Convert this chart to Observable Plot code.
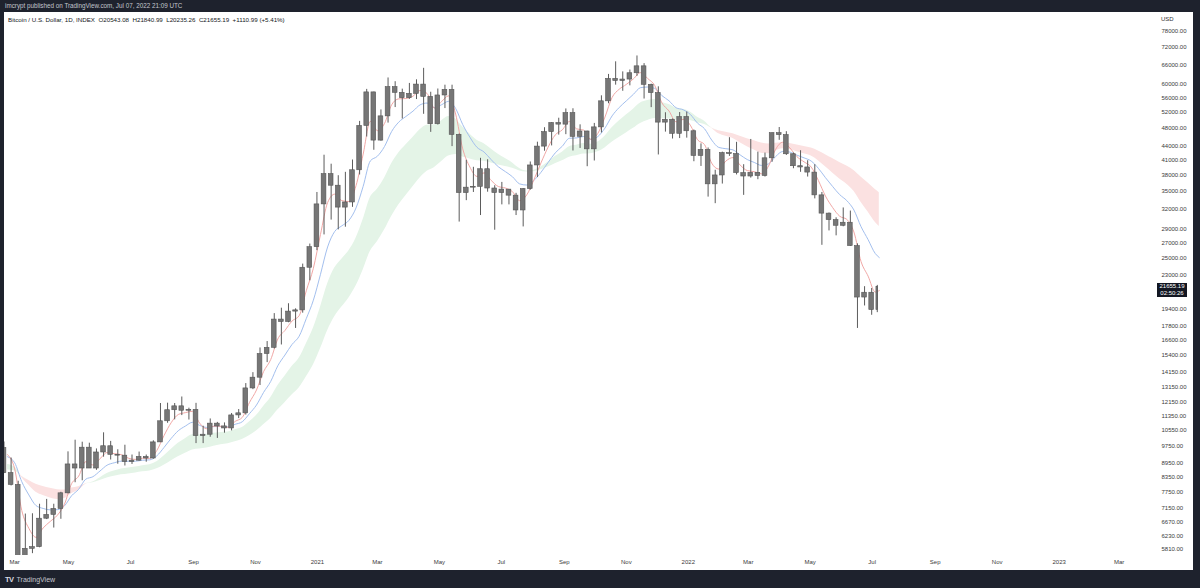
<!DOCTYPE html>
<html><head><meta charset="utf-8">
<script src="https://cdn.jsdelivr.net/npm/d3@7"></script>
<script src="https://cdn.jsdelivr.net/npm/@observablehq/plot@0.6"></script>
<style>
html,body{margin:0;padding:0;background:#1e222d;width:1200px;height:588px;overflow:hidden;font-family:"Liberation Sans",Arial,sans-serif;}
#top{position:absolute;left:5px;top:1px;font-size:6.3px;color:#c3c6ce;line-height:10px;white-space:nowrap;}
#panel{position:absolute;left:4px;top:12px;width:1189px;height:558px;background:#fff;overflow:hidden;}
#hdr{position:absolute;left:4px;top:4px;font-size:6.2px;color:#131722;line-height:8px;white-space:nowrap;}
#usd{position:absolute;left:1157px;top:3px;font-size:6px;color:#333;line-height:8px;}
#px{position:absolute;left:1153px;width:30px;height:14px;background:#131722;color:#fff;font-size:6px;line-height:7px;text-align:center;}
#foot{position:absolute;left:5px;top:575px;font-size:7px;color:#c3c6ce;line-height:9px;white-space:nowrap;}
#foot b{font-size:7.5px;color:#d8dbe2;margin-right:3px;letter-spacing:-0.5px;}
</style></head>
<body>
<div id="top">imcrypt published on TradingView.com, Jul 07, 2022 21:09 UTC</div>
<div id="panel">
  <div id="chart"></div>
  <div id="hdr">Bitcoin / U.S. Dollar, 1D, INDEX&nbsp;&nbsp;O20543.08&nbsp; H21840.99&nbsp; L20235.26&nbsp; C21655.19&nbsp; +1110.99 (+5.41%)</div>
  <div id="usd">USD</div>
  <div id="px">21655.19<br>02:50:26</div>
</div>
<div id="foot"><b>TV</b>TradingView</div>
<script>
// weekly candles, weeks starting Monday 2020-02-24 .. 2022-07-04 (last one partial to Jul 7)
const open = [9660,8520,8030,5360,5830,5880,6780,6910,7120,7700,8900,8720,9680,8720,9450,9750,9340,9300,9010,9070,9240,9170,9940,11050,11680,11910,11650,11700,10260,10330,10920,10770,10660,11380,11500,13030,13750,15480,15970,18400,18180,19150,19270,23860,26450,32780,38150,36000,32260,33100,38900,48580,57480,45140,50970,59020,57350,55830,57060,59770,56200,49000,56600,58200,46450,34700,35650,35800,39100,35500,34700,35300,34250,31800,35400,39850,43800,47100,49300,48900,51800,46000,47250,43200,48230,54960,61500,60850,61300,63270,65500,59700,57270,49400,50100,46700,50800,47300,41800,43080,36250,37900,42400,42200,38350,37700,38400,37800,41300,46850,46400,42150,39700,39450,38450,34300,31300,30300,29450,29900,26600,20550,21050,19300];
const high = [9960,9190,8180,6940,6950,7290,7470,7290,7740,9480,10050,9950,9900,9620,10430,9990,9580,9800,9330,9470,9330,10020,12080,12100,12080,12480,11800,12090,10780,11180,10990,10960,11490,11720,13350,14100,15960,16480,18960,19480,19920,19420,24300,26870,34800,41950,40100,37850,38500,40950,49700,58350,57530,52640,61790,60640,58420,60120,61220,64850,57520,58460,59590,59590,46650,40900,39480,41300,41000,36000,36600,35300,34650,35500,40550,44780,48150,49380,50500,52900,52950,48850,47300,49200,56500,62900,67000,63700,64300,69000,66400,59900,59100,51900,50300,51950,52100,47600,44400,43500,38900,42600,45800,44750,40000,45400,42600,42400,46900,48200,47200,42400,42900,40800,40000,34800,31400,30650,32200,31700,26900,21700,21500,21840];
const low = [8500,7990,3800,4440,5690,5860,6750,6470,6760,7680,8120,8200,8810,8640,9230,9100,8910,8830,8900,9050,9000,9140,9930,10940,11130,11370,11120,9880,9880,10200,10140,10410,10530,11200,11400,12950,13220,14830,15880,16200,18110,17600,19000,22350,26000,28130,30300,28850,29240,32300,37990,45950,43000,45000,49280,53270,50300,55500,55450,51500,47040,48800,53000,43800,30000,33400,34800,31000,34850,28800,32700,32700,31000,29280,35200,37500,42800,43950,46400,46500,42850,43400,39600,40750,46900,54300,59600,57800,59400,62300,55600,53250,42000,47100,45500,45600,45700,40600,39650,34000,32900,36300,41700,38000,34300,37400,37100,37600,40500,45200,41900,39200,38500,37600,33700,26700,28700,28000,29300,26550,17600,19700,18800,19050];
const close = [8520,8030,5360,5830,5880,6780,6910,7120,7700,8900,8720,9680,8720,9450,9750,9340,9300,9010,9070,9240,9170,9940,11050,11680,11910,11650,11700,10260,10330,10920,10770,10660,11380,11500,13030,13750,15480,15970,18400,18180,19150,19270,23860,26450,32780,38150,36000,32260,33100,38900,48580,57480,45140,50970,59020,57350,55830,57060,59770,56200,49000,56600,58200,46450,34700,35650,35800,39100,35500,34700,35300,34250,31800,35400,39850,43800,47100,49300,48900,51800,46000,47250,43200,48230,54960,61500,60850,61300,63270,65500,59700,57270,49400,50100,46700,50800,47300,41800,43080,36250,37900,42400,42200,38350,37700,38400,37800,41300,46850,46400,42150,39700,39450,38450,34300,31300,30300,29450,29900,26600,20550,21050,19300,21655.19];
// moving-average lines read at each week end
const maRed = [9350,8703,7065,6460,6176,6472,6687,6899,7291,8079,8393,9024,8875,9157,9448,9395,9348,9182,9127,9182,9176,9550,10285,10969,11430,11538,11617,10952,10647,10781,10776,10719,11043,11267,12131,12924,14176,15055,16694,17422,18269,18759,21258,23802,28201,33076,34509,33407,33257,36022,42175,49674,47452,49176,54000,55642,55734,56384,58043,57140,53151,54841,56487,51569,43303,39553,37714,38393,36975,35860,35586,34931,33397,34378,37059,40362,43664,46426,47638,49677,47875,47569,45428,46801,50799,56042,58398,59820,61511,63466,61621,59489,54545,52367,49590,50183,48770,45355,44240,40325,39137,40736,41453,39933,38839,38624,38220,39729,43218,44777,43490,41633,40563,39528,36966,34190,32284,30895,30407,28542,24626,22874,21123,21283];
const maBlue = [9250,8975,8162,7637,7242,7138,7087,7094,7230,7606,7857,8267,8369,8612,8868,8974,9047,9039,9046,9090,9108,9295,9690,10138,10537,10787,10992,10827,10715,10761,10763,10740,10884,11023,11475,11987,12773,13492,14596,15402,16245,16926,18486,20278,23091,26479,28621,29440,30264,32207,35891,40749,41737,43814,47235,49511,50933,52312,53990,54487,53252,54005,54949,53037,48911,45927,43648,42625,41022,39600,38633,37647,36331,36122,36961,38500,40435,42430,43886,45667,45742,46081,45433,46062,48064,51087,53284,55088,56929,58857,59047,58647,56566,55111,53219,52675,51466,49291,47894,45274,43615,43342,43085,42020,41048,40452,39855,40180,41681,42743,42610,41955,41391,40729,39283,37487,35870,34426,33408,31876,29328,27465,25628,25112];
const bandFast = [8900,8787,8341,8015,7737,7613,7522,7470,7500,7682,7817,8059,8145,8315,8502,8611,8701,8741,8784,8843,8886,9023,9287,9598,9899,10127,10331,10322,10323,10401,10449,10476,10594,10712,11013,11369,11903,12432,13208,13854,14542,15157,16288,17609,19581,21995,23816,24914,25978,27658,30378,33901,35362,37391,40203,42432,44174,45849,47659,48769,48799,49813,50903,50324,48293,46649,45239,44441,43279,42164,41272,40359,39246,38746,38890,39528,40512,41654,42596,43793,44080,44492,44324,44832,46149,48145,49797,51292,52849,54494,55171,55444,54658,54065,53108,52808,52092,50754,49756,48000,46687,46130,45619,44674,43767,43069,42384,42243,42842,43305,43155,42706,42283,41785,40812,39575,38369,37210,36260,35004,33125,31555,29962,29339];
const bandSlow = [8650,8608,8387,8213,8054,7967,7895,7842,7832,7905,7960,8077,8121,8211,8316,8386,8448,8486,8526,8575,8615,8705,8864,9055,9249,9412,9568,9615,9664,9749,9818,9875,9977,10081,10282,10518,10855,11203,11692,12133,12610,13063,13797,14657,15889,17403,18668,19592,20511,21761,23585,25890,27199,28815,30869,32670,34245,35796,37426,38703,39403,40572,41771,42089,41587,41183,40817,40700,40346,39962,39645,39278,38770,38541,38630,38982,39534,40198,40790,41539,41842,42210,42277,42682,43517,44740,45835,46887,48001,49191,49906,50407,50339,50323,50077,50126,49934,49381,48953,48089,47396,47056,46726,46156,45581,45093,44597,44373,44541,44667,44496,44170,43849,43482,42858,42072,41272,40468,39749,38855,37610,36484,35315,34769];
const yTicks = [78000,72000,66000,60000,56000,52000,48000,44000,41000,38000,35000,32000,29000,27000,25000,23000,19400,17800,16600,15400,14150,13150,12150,11350,10550,9750,8950,8350,7750,7150,6670,6230,5810];
const xTickDates = ["2020-03-01","2020-05-01","2020-07-01","2020-09-01","2020-11-01","2021-01-01","2021-03-01","2021-05-01","2021-07-01","2021-09-01","2021-11-01","2022-01-01","2022-03-01","2022-05-01","2022-07-01","2022-09-01","2022-11-01","2023-01-01","2023-03-01"];
const xTickLabels = ["Mar","May","Jul","Sep","Nov","2021","Mar","May","Jul","Sep","Nov","2022","Mar","May","Jul","Sep","Nov","2023","Mar"];
const lastPrice = 21655.19;

const weeks = d3.utcMonday.range(new Date(Date.UTC(2020,1,24)), new Date(Date.UTC(2022,6,5)));
const lastEnd = new Date(Date.UTC(2022,6,8));
const rows = weeks.map((w,i)=>{
  const end = i===weeks.length-1 ? lastEnd : d3.utcDay.offset(w,7);
  return {start:w, end, mid:new Date((+w + +end)/2), t:end,
    o:open[i], h:high[i], l:low[i], c:close[i],
    red:maRed[i], blue:maBlue[i], fast:bandFast[i], slow:bandSlow[i],
    top:Math.max(bandFast[i], bandSlow[i])};
});
const xticks = xTickDates.map(s=>new Date(s+"T00:00:00Z"));

const chart = Plot.plot({
  width:1189, height:558,
  marginLeft:0, marginRight:48, marginTop:0, marginBottom:15,
  style:{fontFamily:"'Liberation Sans',Arial,sans-serif", fontSize:"6px", color:"#3a3a3a", background:"transparent"},
  x:{type:"utc", domain:[new Date(Date.UTC(2020,1,28)), new Date(Date.UTC(2023,2,27))], axis:null},
  y:{type:"log", domain:[5810,78000], range:[537,19], axis:"right", ticks:yTicks,
     tickFormat:d=>d.toFixed(2), tickSize:0, tickPadding:16, label:null},
  marks:[
    Plot.areaY(rows,{x:"t", y1:"slow", y2:"top", fill:"#e4f4e7", curve:"monotone-x", clip:true}),
    Plot.areaY(rows,{x:"t", y1:"fast", y2:"top", fill:"#fbe1e1", curve:"monotone-x", clip:true}),
    Plot.line(rows,{x:"t", y:"blue", stroke:"#a3bfee", strokeWidth:1, curve:"monotone-x", clip:true}),
    Plot.line(rows,{x:"t", y:"red", stroke:"#f1a7a5", strokeWidth:1, curve:"monotone-x", clip:true}),
    Plot.ruleX(rows,{x:"mid", y1:"l", y2:"h", stroke:"#5b5b5b", strokeWidth:1, clip:true}),
    Plot.rect(rows,{x1:"start", x2:"end", y1:d=>Math.min(d.o,d.c), y2:d=>Math.max(d.o,d.c),
      fill:"#767676", stroke:"#555", strokeWidth:0.6, insetLeft:1.2, insetRight:1.2, clip:true}),
    Plot.text(xticks.slice(1),{x:d=>d, text:(d,i)=>xTickLabels[i+1], frameAnchor:"bottom", dy:8,
      fontWeight:d=>d.getUTCMonth()===0?"bold":"normal", fill:"#3a3a3a", fontSize:6}),
    Plot.text(xticks.slice(0,1),{x:d=>d, text:[xTickLabels[0]], frameAnchor:"bottom", dy:8, dx:3,
      textAnchor:"start", fill:"#3a3a3a", fontSize:6})
  ]
});
document.getElementById("chart").appendChild(chart);
const ypx = chart.scale("y").apply(lastPrice);
document.getElementById("px").style.top = (ypx-4)+"px";
</script>
</body></html>
